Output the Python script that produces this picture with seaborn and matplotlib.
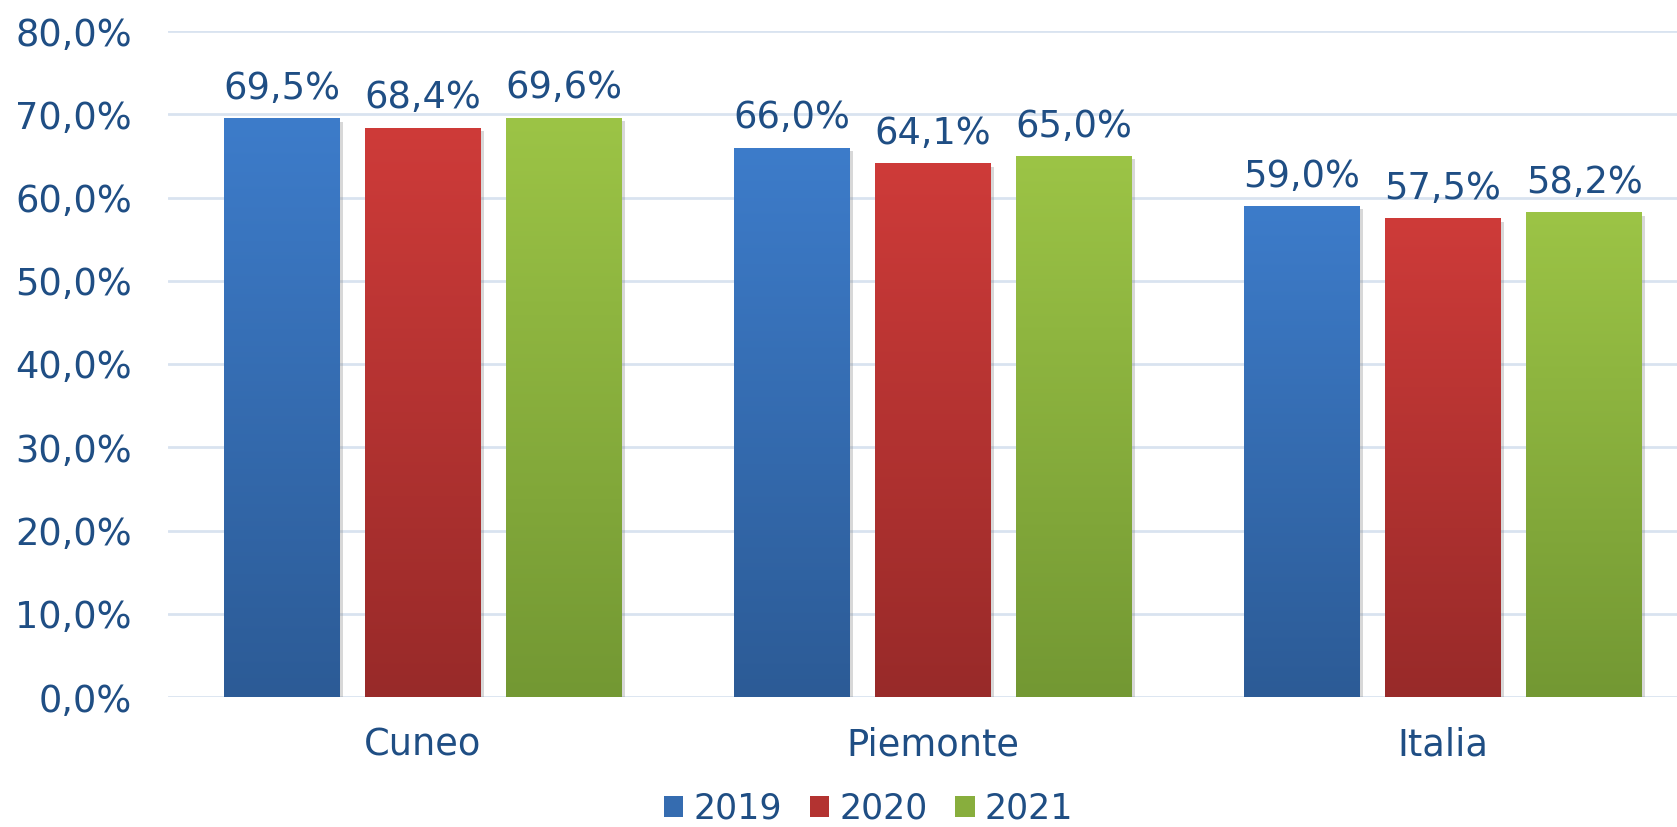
import numpy as np
import pandas as pd
import matplotlib
matplotlib.use("Agg")
import matplotlib.pyplot as plt
import matplotlib.patheffects as pe
from matplotlib.colors import LinearSegmentedColormap
from matplotlib.patches import Patch
import seaborn as sns

# Data
areas = ["Cuneo", "Piemonte", "Italia"]
years = ["2019", "2020", "2021"]
v2019 = [0.695, 0.660, 0.590]
v2020 = [0.684, 0.641, 0.575]
v2021 = [0.696, 0.650, 0.582]
y_ticks = [0.0, 0.1, 0.2, 0.3, 0.4, 0.5, 0.6, 0.7, 0.8]

df = pd.DataFrame({
    "area": areas * 3,
    "year": [y for y in years for _ in areas],
    "value": v2019 + v2020 + v2021,
})

# (top colour, bottom colour) for each year's vertical gradient
grad = {
    "2019": ("#3D7CCA", "#2C5B96"),
    "2020": ("#CE3B39", "#982A29"),
    "2021": ("#9CC446", "#739833"),
}
mid = {k: (np.array(matplotlib.colors.to_rgb(a)) + np.array(matplotlib.colors.to_rgb(b))) / 2
       for k, (a, b) in grad.items()}

TEXT = "#1F4E84"
GRID = "#D9E3F0"
FS = 26.5

sns.set_theme(style="white")
plt.rcParams["font.family"] = ["DejaVu Sans"]

fig = plt.figure(figsize=(16.77, 8.27), dpi=100)
ax = fig.add_axes([168 / 1677, 130 / 827, 1530 / 1677, 666 / 827])

sns.barplot(data=df, x="area", y="value", hue="year", order=areas, hue_order=years,
            palette=[tuple(mid[y]) for y in years], width=0.83, gap=0.18,
            saturation=1, legend=False, ax=ax, zorder=3)

for year, cont in zip(years, ax.containers):
    cmap = LinearSegmentedColormap.from_list(year, [grad[year][1], grad[year][0]])
    for bar, val in zip(cont, df[df.year == year]["value"]):
        bar.set_edgecolor("none")
        bar.set_path_effects([pe.SimplePatchShadow(offset=(2.0, -2.5), shadow_rgbFace="#7F7F7F", alpha=0.3),
                              pe.Normal()])
        x0 = bar.get_x()
        w = bar.get_width()
        h = bar.get_height()
        g = np.linspace(0, 1, 256).reshape(-1, 1)
        im = ax.imshow(g, cmap=cmap, origin="lower", aspect="auto",
                       extent=[x0, x0 + w, 0, h], zorder=4, interpolation="bicubic")
        im.set_clip_path(bar)
        ax.annotate(f"{val * 100:.1f}%".replace(".", ","), (x0 + w / 2, h),
                    xytext=(0, 8), textcoords="offset points", ha="center", va="bottom",
                    fontsize=FS, color=TEXT, zorder=5)

ax.set_xlim(-0.5, 2.5)
ax.set_ylim(0, 0.8)
ax.set_yticks(y_ticks)
ax.set_yticklabels([f"{t * 100:.1f}%".replace(".", ",") for t in y_ticks])
ax.yaxis.grid(True, color=GRID, linewidth=2, zorder=0)
ax.set_axisbelow(True)
for s in ax.spines.values():
    s.set_visible(False)
ax.tick_params(axis="y", length=0, pad=26, labelsize=FS, labelcolor=TEXT)
ax.tick_params(axis="x", length=0, pad=21, labelsize=FS, labelcolor=TEXT)
ax.set_xlabel("")
ax.set_ylabel("")

handles = [Patch(facecolor=tuple(mid[y]), edgecolor="none", label=y) for y in years]
fig.legend(handles=handles, loc="center", bbox_to_anchor=(0.518, 0.022), ncol=3,
           frameon=False, fontsize=25, labelcolor=TEXT, handlelength=0.55,
           handleheight=0.55, handletextpad=0.3, columnspacing=0.8,
           borderpad=0.1)

fig.savefig("out.png", dpi=100)
